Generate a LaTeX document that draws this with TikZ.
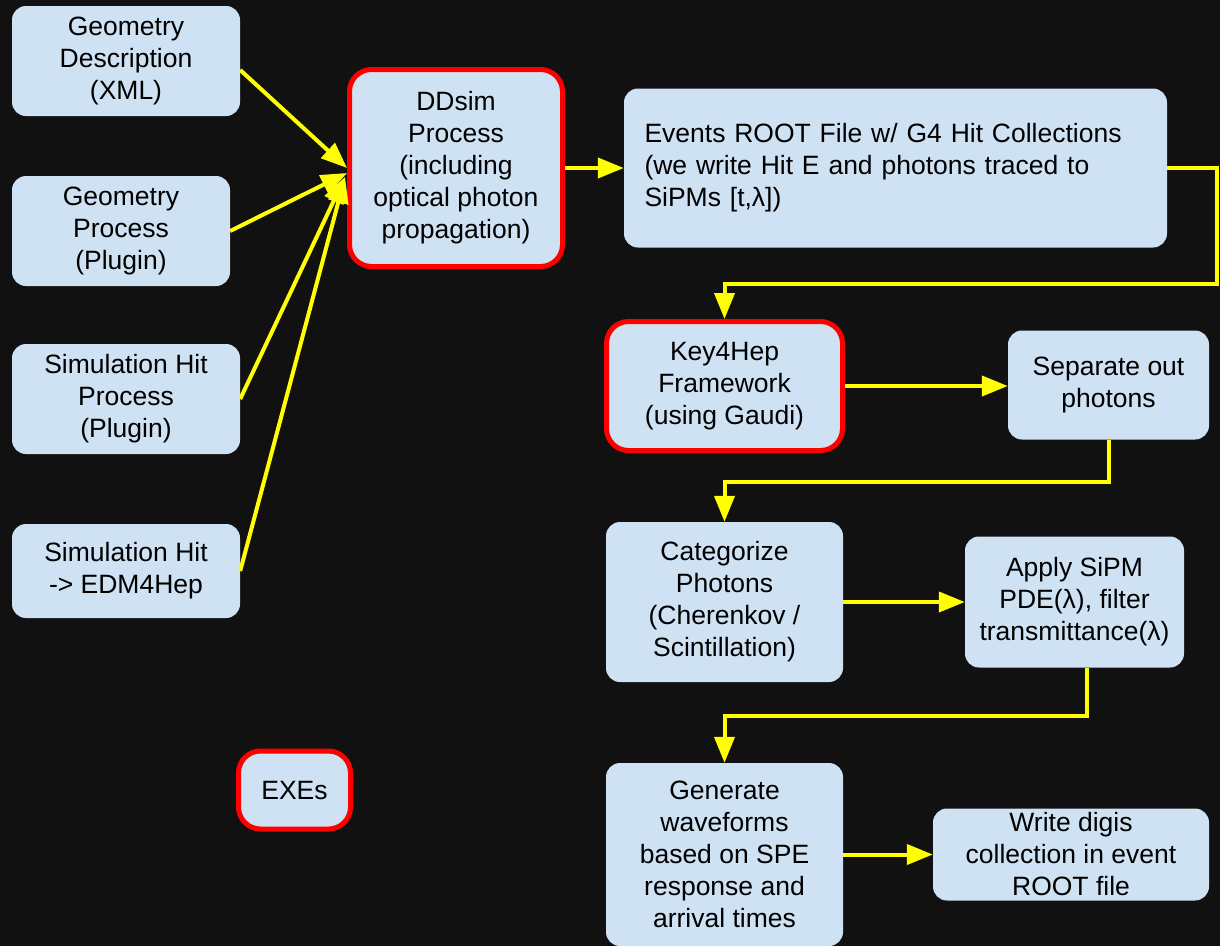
\documentclass[tikz,border=0pt]{standalone}
\usepackage{fontspec}
\setmainfont{Liberation Sans}
\usetikzlibrary{arrows.meta,calc}
\definecolor{bgc}{HTML}{111111}
\definecolor{boxblue}{HTML}{CFE2F3}
\definecolor{yel}{HTML}{FFFF00}
\definecolor{redc}{HTML}{FF0000}
\begin{document}
\begin{tikzpicture}[x=1pt,y=-1pt,
  box/.style={fill=boxblue, rounded corners=14pt, align=center, inner sep=0pt,
    font=\fontsize{26.5}{32}\selectfont},
  exe/.style={box, draw=redc, line width=5pt, rounded corners=22pt},
  arr/.style={draw=yel, line width=4pt, -{Triangle[length=26pt,width=20pt]}}]
\fill[bgc] (0,0) rectangle (1220,946);
\useasboundingbox (0,0) rectangle (1220,946);
% left column
\node[box, minimum width=228pt, minimum height=110pt] (gd) at (126,61) {Geometry\\Description\\(XML)};
\node[box, minimum width=218pt, minimum height=110pt] (gp) at (121,231) {Geometry\\Process\\(Plugin)};
\node[box, minimum width=228pt, minimum height=110pt] (shp) at (126,399) {Simulation Hit\\Process\\(Plugin)};
\node[box, minimum width=228pt, minimum height=94pt] (edm) at (126,571) {Simulation Hit\\-> EDM4Hep};
\node[exe, minimum width=112pt, minimum height=78pt] (exes) at (294.5,790) {EXEs};
% main chain
\node[exe, minimum width=213pt, minimum height=197pt] (dd) at (456,168) {DDsim\\Process\\(including\\optical photon\\propagation)};
\node[box, minimum width=543pt, minimum height=159pt, text width=502pt, align=left] (ev) at (895.5,168) {Events ROOT File w/ G4 Hit Collections\\(we write Hit E and photons traced to\\SiPMs [t,λ])};
\node[exe, minimum width=236pt, minimum height=129pt] (k4) at (724.5,386) {Key4Hep\\Framework\\(using Gaudi)};
\node[box, minimum width=201pt, minimum height=109pt] (sep) at (1108.5,385) {Separate out\\photons};
\node[box, minimum width=237pt, minimum height=160pt] (cat) at (724.5,602) {Categorize\\Photons\\(Cherenkov /\\Scintillation)};
\node[box, minimum width=219pt, minimum height=131pt] (app) at (1074.5,602) {Apply SiPM\\PDE(λ), filter\\transmittance(λ)};
\node[box, minimum width=237pt, minimum height=183pt] (gen) at (724.5,854.5) {Generate\\waveforms\\based on SPE\\response and\\arrival times};
\node[box, minimum width=276pt, minimum height=92pt] (wr) at (1071,854.5) {Write digis\\collection in event\\ROOT file};
% arrows into DDsim
\draw[arr] ($(gd.east)+(0,9)$) -- (dd.west);
\draw[arr] (gp.east) -- ($(dd.west)+(0,5)$);
\draw[arr] (shp.east) -- ($(dd.west)+(-2,9)$);
\draw[arr] (edm.east) -- ($(dd.west)+(-2,9)$);
% chain arrows
\draw[arr] (dd.east) -- (dd.east -| ev.west);
\draw[arr] (ev.east) -- ++(50,0) -- ++(0,116) -| (k4.north);
\draw[arr] (k4.east) -- (k4.east -| sep.west);
\draw[arr] (sep.south) -- ++(0,42) -| (cat.north);
\draw[arr] (cat.east) -- (cat.east -| app.west);
\draw[arr] ($(app.south)+(12,0)$) -- ++(0,48) -| (gen.north);
\draw[arr] (gen.east) -- (gen.east -| wr.west);
\end{tikzpicture}
\end{document}
